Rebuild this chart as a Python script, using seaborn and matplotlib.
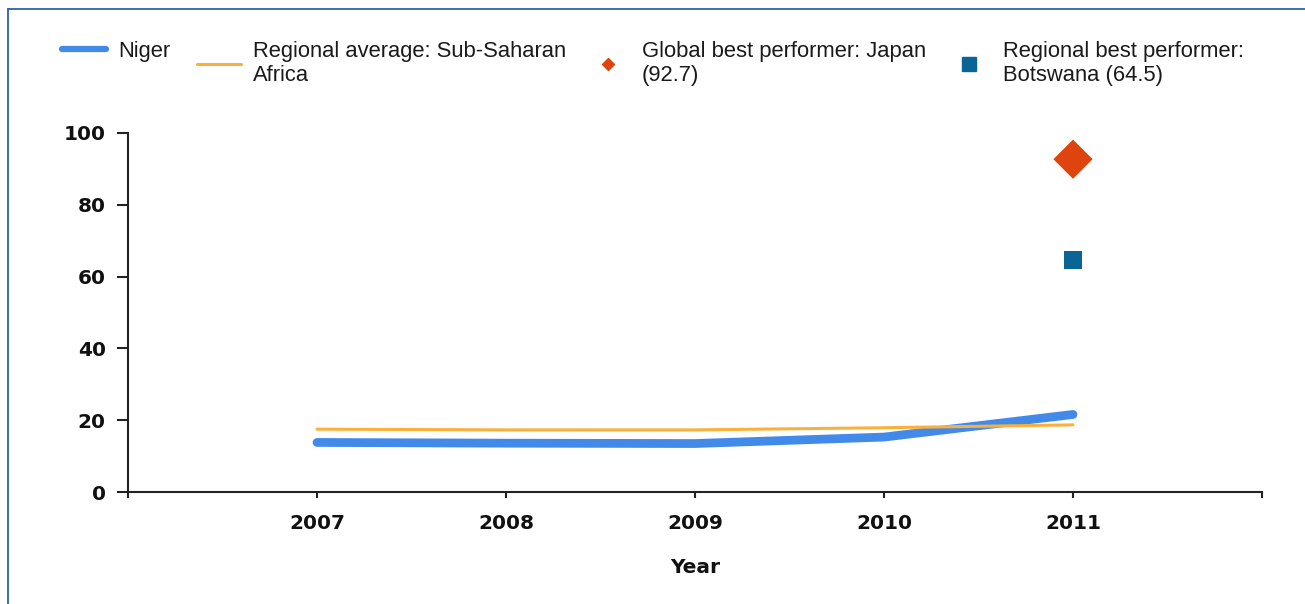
import matplotlib
matplotlib.use("Agg")
import matplotlib.pyplot as plt
import pandas as pd
import seaborn as sns
from matplotlib.lines import Line2D

# data
years = [2007, 2008, 2009, 2010, 2011]
niger = [13.8, 13.6, 13.5, 15.3, 21.6]
regional_avg = [17.5, 17.3, 17.3, 17.9, 18.7]
global_best = {"year": [2011], "value": [92.7]}   # Japan
regional_best = {"year": [2011], "value": [64.5]}  # Botswana

x_ticks = [2006, 2007, 2008, 2009, 2010, 2011, 2012]
x_tick_labels = ["", "2007", "2008", "2009", "2010", "2011", ""]
y_ticks = [0, 20, 40, 60, 80, 100]

labels = ["Niger",
          "Regional average: Sub-Saharan\nAfrica",
          "Global best performer: Japan\n(92.7)",
          "Regional best performer:\nBotswana (64.5)"]

c_niger = "#418aea"
c_reg = "#fbb03b"
c_glob = "#e0440e"
c_rbest = "#0a6496"

sns.set_style("white")
plt.rcParams["font.family"] = ["DejaVu Sans"]

df = pd.DataFrame({"year": years, "Niger": niger, "Regional": regional_avg})

W, H = 1305, 604
fig = plt.figure(figsize=(W / 100, H / 100), dpi=100)
ax = fig.add_axes([128 / W, 1 - 492 / H, (1262 - 128) / W, (492 - 133) / H])

sns.lineplot(data=df, x="year", y="Niger", ax=ax, color=c_niger, linewidth=6.3,
             solid_capstyle="round", solid_joinstyle="round")
sns.lineplot(data=df, x="year", y="Regional", ax=ax, color=c_reg, linewidth=2.2)
sns.scatterplot(data=pd.DataFrame(global_best), x="year", y="value", ax=ax,
                marker="D", s=20 ** 2, color=c_glob, edgecolor="none")
sns.scatterplot(data=pd.DataFrame(regional_best), x="year", y="value", ax=ax,
                marker="s", s=13 ** 2, color=c_rbest, edgecolor="none")

ax.set_xlim(2006, 2012)
ax.set_ylim(0, 100)
ax.set_xticks(x_ticks)
ax.set_xticklabels(x_tick_labels)
ax.set_yticks(y_ticks)

ax.spines["top"].set_visible(False)
ax.spines["right"].set_visible(False)
for side in ["left", "bottom"]:
    ax.spines[side].set_color("#222222")
    ax.spines[side].set_linewidth(1.5)

ax.tick_params(axis="x", direction="out", length=4.5, width=1.5, color="#222222",
               pad=11.5, labelsize=14.5, bottom=True)
ax.tick_params(axis="y", direction="out", length=8, width=1.5, color="#222222",
               pad=8, labelsize=14.5, left=True)
for lbl in ax.get_xticklabels() + ax.get_yticklabels():
    lbl.set_fontweight("bold")
    lbl.set_color("#111111")

ax.set_xlabel("Year", fontsize=14.5, fontweight="bold", labelpad=18, color="#111111")
ax.set_ylabel("")

# legend: one box per entry so each sits where the reference puts it
handles = [
    Line2D([], [], color=c_niger, linewidth=4.5),
    Line2D([], [], color=c_reg, linewidth=2.2),
    Line2D([], [], color=c_glob, marker="D", markersize=6.5, linestyle="none"),
    Line2D([], [], color=c_rbest, marker="s", markersize=9.5, linestyle="none"),
]
legend_x = [62, 197, 586, 947]
for h, lab, lx in zip(handles, labels, legend_x):
    leg = fig.legend([h], [lab], loc="upper left", bbox_to_anchor=(lx / W, 1 - 41 / H),
                     frameon=False, handlelength=2.0, handletextpad=0.55,
                     borderpad=0, borderaxespad=0,
                     prop={"family": "Liberation Sans", "size": 15.8})
    for t in leg.get_texts():
        t.set_color("#1a1a1a")

# blue frame around the chart
fig.add_artist(Line2D([8 / W, 8 / W], [0, 1 - 9 / H], color="#2a63a8", linewidth=1.3))
fig.add_artist(Line2D([8 / W, 1], [1 - 9 / H, 1 - 9 / H], color="#2a63a8", linewidth=1.3))

fig.savefig("out.png", dpi=100)
